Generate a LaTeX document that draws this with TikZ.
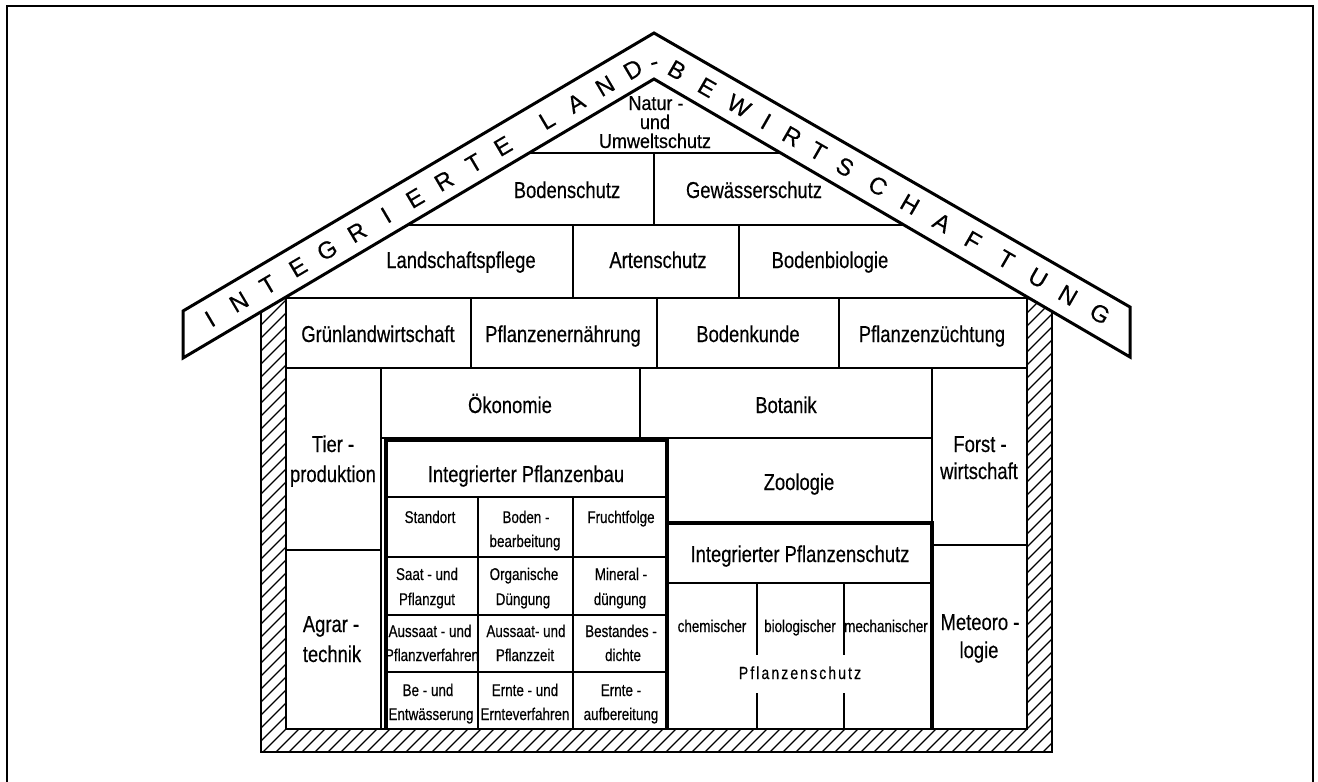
\documentclass[tikz,border=0pt]{standalone}
\usepackage{fontspec}
\setmainfont{Liberation Sans}[FakeStretch=0.80,FakeBold=0.4]
\newfontfamily\smallfont{Liberation Sans}[FakeStretch=0.79,FakeBold=0.4]
\newfontfamily\rooffont{Liberation Sans}[FakeBold=0.3]
\newfontfamily\naturfont{Liberation Sans}[FakeStretch=0.90,FakeBold=0.4]
\newfontfamily\spacedfont{Liberation Sans}[FakeStretch=0.80,FakeBold=0.4,LetterSpace=12]
\begin{document}
\begin{tikzpicture}[x=1pt,y=-1pt,
  ln/.style={line width=2.2pt},
  grd/.style={line width=2.8pt},
  thk/.style={line width=4.2pt, line join=miter},
  hatchln/.style={line width=1.3pt},
  bigtxt/.style={font=\fontsize{23}{23}\selectfont, inner sep=0pt, anchor=base},
  smalltxt/.style={font=\smallfont\fontsize{17}{17}\selectfont, inner sep=0pt, anchor=base},
  naturtxt/.style={font=\naturfont\fontsize{20}{20}\selectfont, inner sep=0pt, anchor=base},
  rooflet/.style={font=\rooffont\fontsize{24}{24}\selectfont, inner sep=0pt, anchor=center}]
\useasboundingbox (0,0) rectangle (1318,782);

% outer frame
\draw[line width=2.5pt] (7,800) -- (7,6) -- (1313,6) -- (1313,800);

% hatched walls
\begin{scope}
\clip (261,311.8) -- (261,752) -- (1052,752) -- (1052,311.4) -- (1027,296.8) -- (1027,729) -- (286,729) -- (286,297) -- cycle;
\foreach \k in {-600,-587,...,1100} \draw[hatchln] (\k,770) -- ({\k+500},270);
\end{scope}
\draw[line width=2.6pt] (261,311.8) -- (261,752) -- (1052,752) -- (1052,311.4);
\draw[line width=2.6pt] (286,297) -- (286,729) -- (1027,729) -- (1027,296.8);

% roof
\draw[line width=3pt, fill=white, line join=miter] (183,311) -- (654,33) -- (1130,307) -- (1130,357) -- (654,79) -- (183,358) -- cycle;

% roof rows
\draw[ln] (529,153) -- (781,153);
\draw[ln] (407.5,225) -- (904,225);
\draw[ln] (286,298) -- (1027,298);
\draw[ln] (654,153) -- (654,225);
\draw[ln] (573,225) -- (573,298);
\draw[ln] (739,225) -- (739,298);
\draw[ln] (471,298) -- (471,368);
\draw[ln] (657,298) -- (657,368);
\draw[ln] (839,298) -- (839,368);
\draw[ln] (286,368) -- (1027,368);

% body
\draw[ln] (381,368) -- (381,729);
\draw[ln] (286,550) -- (381,550);
\draw[ln] (640,368) -- (640,438);
\draw[ln] (381,438) -- (932,438);
\draw[ln] (932,368) -- (932,729);
\draw[ln] (932,545) -- (1027,545);

% Integrierter Pflanzenbau grid
\draw[grd] (386,497) -- (667,497);
\draw[grd] (386,557) -- (667,557);
\draw[grd] (386,615) -- (667,615);
\draw[grd] (386,672) -- (667,672);
\draw[grd] (478,497) -- (478,729);
\draw[grd] (573,497) -- (573,729);
\draw[thk] (386,729) -- (386,440) -- (667,440) -- (667,729);

% Integrierter Pflanzenschutz
\draw[thk] (667,523) -- (932,523) -- (932,729);
\draw[grd] (667,583) -- (932,583);
\draw[ln] (757,583) -- (757,655);
\draw[ln] (757,693) -- (757,729);
\draw[ln] (844,583) -- (844,655);
\draw[ln] (844,693) -- (844,729);

% roof lettering
\foreach \ch/\xx [count=\i] in {I/210,N/239,T/268,E/298,G/327,R/357,I/386,E/415,R/444,T/474,E/503,L/547,A/576,N/605,D/633}
  \node[rooflet, rotate=30.55] (rl\i) at (\xx,{311-(\xx-183)*0.5902+24}) {\ch};
\node[rooflet, rotate=15] (rdash) at (655,66) {-};
\foreach \ch/\xx [count=\i] in {B/677,E/707,W/739,I/766,R/792,T/818,S/845,C/878,H/910,A/942,F/973,T/1006,U/1038,N/1068,G/1100}
  \node[rooflet, rotate=-29.9] (rr\i) at (\xx,{33+(\xx-654)*0.5756+24}) {\ch};

% texts in roof
\node[naturtxt] (natur1) at (656,110) {Natur -};
\node[naturtxt] (natur2) at (655,129) {und};
\node[naturtxt] (natur3) at (655,148) {Umweltschutz};
\node[bigtxt] (bodenschutz) at (567,198) {Bodenschutz};
\node[bigtxt] (gewaesser) at (754,198) {Gewässerschutz};
\node[bigtxt] (landschaft) at (461,268) {Landschaftspflege};
\node[bigtxt] (arten) at (658,268) {Artenschutz};
\node[bigtxt] (bodenbio) at (830,268) {Bodenbiologie};
\node[bigtxt] (gruen) at (378,342) {Grünlandwirtschaft};
\node[bigtxt] (ernaehr) at (563,342) {Pflanzenernährung};
\node[bigtxt] (bodenk) at (748,342) {Bodenkunde};
\node[bigtxt] (zuecht) at (932,342) {Pflanzenzüchtung};

% body texts
\node[bigtxt] (oekon) at (510,413) {Ökonomie};
\node[bigtxt] (botanik) at (786,413) {Botanik};
\node[bigtxt] (tier1) at (333,452) {Tier -};
\node[bigtxt] (tier2) at (333,482) {produktion};
\node[bigtxt] (agrar1) at (331,632) {Agrar -};
\node[bigtxt] (agrar2) at (332,662) {technik};
\node[bigtxt] (forst1) at (980,452) {Forst -};
\node[bigtxt] (forst2) at (979,479) {wirtschaft};
\node[bigtxt] (meteo1) at (980,630) {Meteoro -};
\node[bigtxt] (meteo2) at (979,658) {logie};
\node[bigtxt] (zoologie) at (799,490) {Zoologie};
\node[bigtxt] (ipb) at (526,482) {Integrierter Pflanzenbau};
\node[bigtxt] (ips) at (800,562) {Integrierter Pflanzenschutz};

% Pflanzenbau cells
\node[smalltxt] (standort) at (430,523) {Standort};
\node[smalltxt] (boden1) at (526,523) {Boden -};
\node[smalltxt] (boden2) at (525,547) {bearbeitung};
\node[smalltxt] (frucht) at (621,523) {Fruchtfolge};
\node[smalltxt] (saat1) at (427,580) {Saat - und};
\node[smalltxt] (saat2) at (427,605) {Pflanzgut};
\node[smalltxt] (org1) at (524,580) {Organische};
\node[smalltxt] (org2) at (523,605) {Düngung};
\node[smalltxt] (min1) at (621,580) {Mineral -};
\node[smalltxt] (min2) at (620,605) {düngung};
\node[smalltxt] (aus1) at (430,637) {Aussaat - und};
\node[smalltxt] (aus2) at (432,661) {Pflanzverfahren};
\node[smalltxt] (ausz1) at (526,637) {Aussaat- und};
\node[smalltxt] (ausz2) at (525,661) {Pflanzzeit};
\node[smalltxt] (best1) at (621,637) {Bestandes -};
\node[smalltxt] (best2) at (623,661) {dichte};
\node[smalltxt] (be1) at (428,696) {Be - und};
\node[smalltxt] (be2) at (431,720) {Entwässerung};
\node[smalltxt] (ernte1) at (525,696) {Ernte - und};
\node[smalltxt] (ernte2) at (525,720) {Ernteverfahren};
\node[smalltxt] (auf1) at (621,696) {Ernte -};
\node[smalltxt] (auf2) at (621,720) {aufbereitung};

% Pflanzenschutz cells
\node[smalltxt] (chem) at (712,632) {chemischer};
\node[smalltxt] (bio) at (800,632) {biologischer};
\node[smalltxt] (mech) at (886,632) {mechanischer};
\node[smalltxt, font=\spacedfont\fontsize{17.5}{17.5}\selectfont] (pschutz) at (800,679) {Pflanzenschutz};
\end{tikzpicture}
\end{document}
